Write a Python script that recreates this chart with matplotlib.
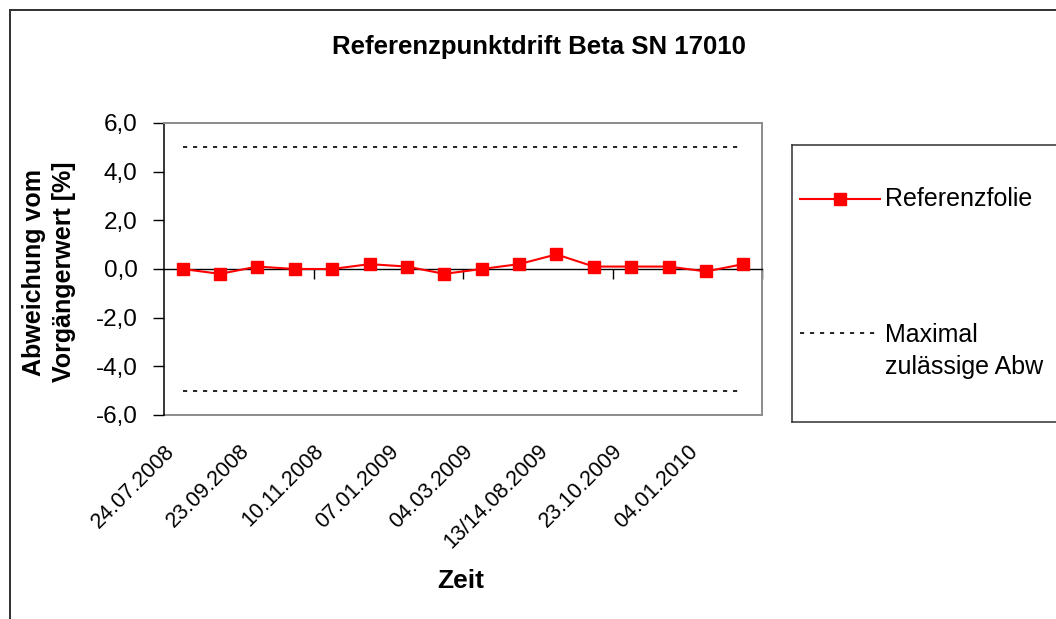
import matplotlib.pyplot as plt
from matplotlib.lines import Line2D
from matplotlib.ticker import FuncFormatter
from matplotlib.transforms import ScaledTranslation

plt.rcParams['font.family'] = ['Liberation Sans', 'DejaVu Sans']

# measurement dates (every second one is labelled on the axis)
dates = ["24.07.2008", "", "23.09.2008", "", "10.11.2008", "", "07.01.2009", "",
         "04.03.2009", "", "13/14.08.2009", "", "23.10.2009", "", "04.01.2010", ""]
drift = [0.0, -0.2, 0.1, 0.0, 0.0, 0.2, 0.1, -0.2,
         0.0, 0.2, 0.6, 0.1, 0.1, 0.1, -0.1, 0.2]
max_dev = 5.0

W, H = 1056, 619
fig = plt.figure(figsize=(W / 100, H / 100), dpi=100)

# outer chart border (only top/left visible)
fig.add_artist(Line2D([10 / W, 1.0], [1 - 10 / H, 1 - 10 / H], color='#303030', lw=1.4))
fig.add_artist(Line2D([10 / W, 10 / W], [0, 1 - 10 / H], color='#303030', lw=1.4))

ax = fig.add_axes([164 / W, (H - 415) / H, 598 / W, 292 / H])
x = list(range(len(drift)))

ax.hlines([max_dev, -max_dev], x[0], x[-1], colors='black', lw=1.2,
          linestyles=[(0, (2.5, 3.5))])
ax.plot(x, drift, color='#FF0000', lw=1.5, marker='s', ms=8.5,
        markeredgecolor='#FF0000', markerfacecolor='#FF0000', zorder=5)

ax.set_xlim(-0.5, len(drift) - 0.5)
ax.set_ylim(-6, 6)
ax.set_yticks(range(-6, 7, 2))
ax.yaxis.set_major_formatter(FuncFormatter(lambda v, p: f"{v:.1f}".replace('.', ',')))
ax.tick_params(axis='y', direction='out', length=8, width=1, labelsize=17.5, pad=11)

# x axis line crosses at zero, ticks every 4 categories
ax.spines['bottom'].set_position(('data', 0))
ax.spines['bottom'].set_color('black')
ax.spines['bottom'].set_linewidth(1.0)
ax.set_xticks([3.5, 7.5, 11.5, 15.5])
ax.tick_params(axis='x', direction='out', length=7, width=1, labelbottom=False)
for s in ['top', 'right']:
    ax.spines[s].set_color('#8c8c8c')
    ax.spines[s].set_linewidth(1.4)
ax.spines['left'].set_linewidth(1.1)

# category labels on plot-area bottom
sec = ax.secondary_xaxis('bottom')
lab_pos = [i for i, d in enumerate(dates) if d]
sec.set_xticks(lab_pos, [dates[i] for i in lab_pos], rotation=45, ha='right',
               rotation_mode='anchor')
sec.tick_params(length=0, labelsize=15.5, pad=12)
sec.spines['bottom'].set_color('#8c8c8c')
sec.spines['bottom'].set_linewidth(1.4)
shift = ScaledTranslation(-0.19, -0.09, fig.dpi_scale_trans)
for lab in sec.get_xticklabels():
    lab.set_transform(lab.get_transform() + shift)

fig.text(539 / W, 1 - 47 / H, "Referenzpunktdrift Beta SN 17010", ha='center',
         va='center', fontsize=18.5, fontweight='bold')
fig.text(49 / W, 1 - 272 / H, "Abweichung vom\nVorgängerwert [%]", rotation=90,
         ha='center', va='center', fontsize=18, fontweight='bold', linespacing=1.3)
fig.text(461 / W, 1 - 581 / H, "Zeit", ha='center', va='center', fontsize=19,
         fontweight='bold')

# legend box (right side runs past the image edge)
lw_ = 300
ax_leg = fig.add_axes([792 / W, (H - 422) / H, lw_ / W, 277 / H])
ax_leg.set_xlim(0, lw_)
ax_leg.set_ylim(277, 0)
ax_leg.set_xticks([])
ax_leg.set_yticks([])
for s in ax_leg.spines.values():
    s.set_color('#303030')
    s.set_linewidth(1.1)
ax_leg.plot([8, 48, 88], [54, 54, 54], color='#FF0000', lw=1.5, marker='s', ms=8.5,
            markevery=[1])
ax_leg.plot([8, 88], [188, 188], color='black', lw=1.2, linestyle=(0, (2.5, 3.5)))
ax_leg.text(93, 54, "Referenzfolie", va='center', ha='left', fontsize=18)
ax_leg.text(93, 206, "Maximal\nzulässige Abw", va='center', ha='left', fontsize=18,
            linespacing=1.4)

fig.savefig("out.png", dpi=100)
